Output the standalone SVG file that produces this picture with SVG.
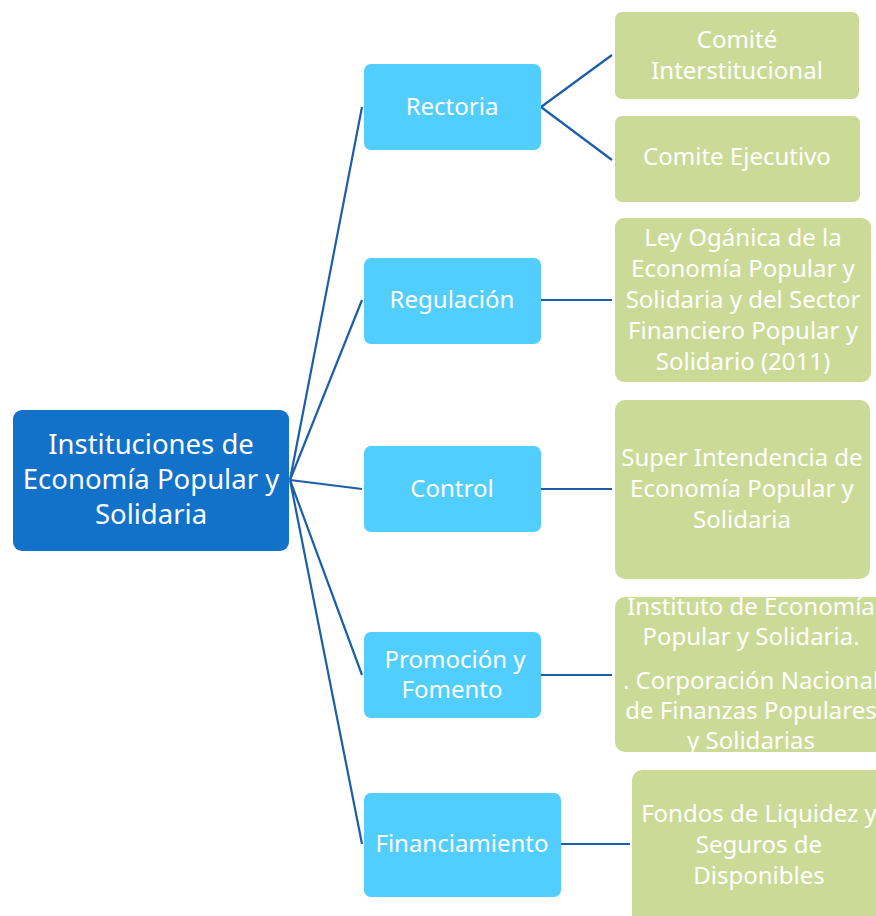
<svg xmlns="http://www.w3.org/2000/svg" width="876" height="916" viewBox="0 0 876 916">
<style>
.main{fill:#1271c8;}
.l1{fill:#52cefe;}
.l2{fill:#cbdb97;}
text{font-family:"Noto Sans","Open Sans",sans-serif;fill:#ffffff;text-anchor:middle;}
.t1{font-size:24px;}
.t0{font-size:27.5px;}
.conn{stroke:#1c5ea8;stroke-width:2.2;fill:none;}
</style>
<rect width="876" height="916" fill="#ffffff"/>
<g id="connectors">
<path class="conn" d="M290 480 L362 107 M290 480 L362 300 M290 480 L362 489 M290 480 L362 675 M290 480 L362 844"/>
<path class="conn" d="M541 107 L612 55 M541 107 L612 160"/>
<path class="conn" d="M541 300 L612 300 M541 489 L612 489 M541 675 L612 675 M561 844 L630 844"/>
</g>
<g id="root">
<rect class="main" x="13" y="410" width="276" height="141" rx="9"/>
<text class="t0"><tspan x="151" y="454">Instituciones de</tspan><tspan x="151" y="489">Economía Popular y</tspan><tspan x="151" y="524">Solidaria</tspan></text>
</g>
<g id="rectoria">
<rect class="l1" x="364" y="64" width="177" height="86" rx="7"/>
<text class="t1" x="452" y="115">Rectoria</text>
</g>
<g id="regulacion">
<rect class="l1" x="364" y="258" width="177" height="86" rx="7"/>
<text class="t1" x="452" y="308">Regulación</text>
</g>
<g id="control">
<rect class="l1" x="364" y="446" width="177" height="86" rx="7"/>
<text class="t1" x="452" y="497">Control</text>
</g>
<g id="promocion">
<rect class="l1" x="364" y="632" width="177" height="86" rx="7"/>
<text class="t1"><tspan x="455" y="668">Promoción y</tspan><tspan x="452" y="698">Fomento</tspan></text>
</g>
<g id="financiamiento">
<rect class="l1" x="364" y="793" width="197" height="104" rx="7"/>
<text class="t1" x="462" y="852">Financiamiento</text>
</g>
<g id="comite-inter">
<rect class="l2" x="615" y="12" width="244" height="87" rx="7"/>
<text class="t1"><tspan x="737" y="48">Comité</tspan><tspan x="737" y="79">Interstitucional</tspan></text>
</g>
<g id="comite-ejec">
<rect class="l2" x="615" y="116" width="245" height="86" rx="7"/>
<text class="t1" x="737" y="165">Comite Ejecutivo</text>
</g>
<g id="ley">
<rect class="l2" x="615" y="218" width="256" height="164" rx="9"/>
<text class="t1"><tspan x="743" y="246">Ley Ogánica de la</tspan><tspan x="743" y="277">Economía Popular y</tspan><tspan x="743" y="308">Solidaria y del Sector</tspan><tspan x="743" y="339">Financiero Popular y</tspan><tspan x="743" y="370">Solidario (2011)</tspan></text>
</g>
<g id="superintendencia">
<rect class="l2" x="615" y="400" width="255" height="179" rx="10"/>
<text class="t1"><tspan x="742" y="466">Super Intendencia de</tspan><tspan x="742" y="497">Economía Popular y</tspan><tspan x="742" y="528">Solidaria</tspan></text>
</g>
<g id="instituto">
<rect class="l2" x="615" y="597" width="275" height="155" rx="10"/>
<text class="t1"><tspan x="751" y="615">Instituto de Economía</tspan><tspan x="751" y="645">Popular y Solidaria.</tspan><tspan x="751" y="689">. Corporación Nacional</tspan><tspan x="751" y="719">de Finanzas Populares</tspan><tspan x="751" y="749">y Solidarias</tspan></text>
</g>
<g id="fondos">
<rect class="l2" x="632" y="770" width="260" height="160" rx="10"/>
<text class="t1"><tspan x="759" y="822">Fondos de Liquidez y</tspan><tspan x="759" y="853">Seguros de</tspan><tspan x="759" y="884">Disponibles</tspan></text>
</g>
</svg>
